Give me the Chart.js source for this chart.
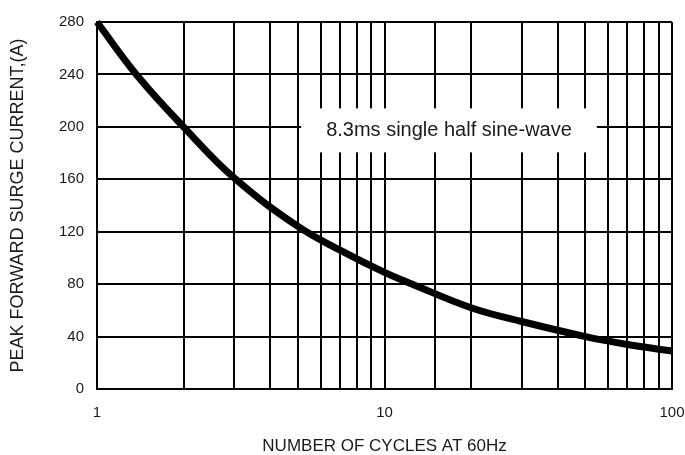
<!DOCTYPE html>
<html>
<head>
<meta charset="utf-8">
<script src="https://cdn.jsdelivr.net/npm/chart.js@4/dist/chart.umd.min.js"></script>
<style>
  html, body { margin: 0; padding: 0; background: #fff; }
  #wrap { width: 685px; height: 455px; }
</style>
</head>
<body>
<div id="wrap"><canvas id="surge" width="685" height="455"></canvas></div>
<script>
const CYCLES = [1, 1.37, 2, 3, 5, 7, 10, 12.5, 20, 30, 50, 70, 100];
const SURGE_AMPS = [280, 240, 200, 161, 124, 106, 89, 80, 62, 51.5, 40, 34, 29];
const Y_TICKS = [0, 40, 80, 120, 160, 200, 240, 280];
const X_LABELS = [1, 10, 100];
const NOTE_TEXT = '8.3ms single half sine-wave';
const NOTE_AT = { x: 16.76, y: 197.3 };

const FONT = 'Liberation Sans, Arial, sans-serif';
const INK = '#1a1a1a';

const notePlugin = {
  id: 'note',
  afterDatasetsDraw(chart) {
    const { ctx, scales } = chart;
    const cx = scales.x.getPixelForValue(NOTE_AT.x);
    const cy = scales.y.getPixelForValue(NOTE_AT.y);
    ctx.save();
    ctx.font = '20px ' + FONT;
    const w = ctx.measureText(NOTE_TEXT).width + 50;
    const h = 44;
    ctx.fillStyle = '#fff';
    ctx.fillRect(cx - w / 2, cy - h / 2, w, h);
    ctx.fillStyle = INK;
    ctx.textAlign = 'center';
    ctx.textBaseline = 'middle';
    ctx.fillText(NOTE_TEXT, cx, cy);
    ctx.restore();
  }
};

window.addEventListener('DOMContentLoaded', () => {
  new Chart(document.getElementById('surge'), {
    type: 'scatter',
    data: {
      datasets: [{
        data: CYCLES.map((c, i) => ({ x: c, y: SURGE_AMPS[i] })),
        showLine: true,
        borderColor: '#000',
        borderWidth: 7,
        pointRadius: 0,
        tension: 0.4,
        clip: false
      }]
    },
    options: {
      responsive: false,
      animation: false,
      devicePixelRatio: 1,
      layout: { padding: { top: 20, right: 13, left: 0, bottom: 0 } },
      scales: {
        x: {
          type: 'logarithmic',
          min: 1,
          max: 100,
          border: { color: '#000', width: 2 },
          grid: { color: '#000', lineWidth: 2, drawTicks: false },
          ticks: {
            padding: 15,
            color: INK,
            font: { family: FONT, size: 15 },
            maxRotation: 0,
            autoSkip: false,
            callback: (v) => X_LABELS.includes(v) ? String(v) : ''
          },
          title: {
            display: true,
            text: 'NUMBER OF CYCLES AT 60Hz',
            color: INK,
            font: { family: FONT, size: 17, lineHeight: 1 },
            padding: { top: 0, bottom: 0 }
          },
          afterFit: (s) => { s.height = 66; s.paddingLeft = 0; s.paddingRight = 0; }
        },
        y: {
          min: 0,
          max: 280,
          border: { color: '#000', width: 2 },
          grid: { color: '#000', lineWidth: 2, drawTicks: false },
          afterBuildTicks: (s) => { s.ticks = Y_TICKS.map(v => ({ value: v })); },
          ticks: {
            padding: 13,
            color: INK,
            font: { family: FONT, size: 15 }
          },
          title: {
            display: true,
            text: 'PEAK FORWARD SURGE CURRENT,(A)',
            color: INK,
            font: { family: FONT, size: 18, lineHeight: 1 },
            padding: { top: 9, bottom: 0 }
          },
          afterFit: (s) => { s.width = 97; }
        }
      },
      plugins: {
        legend: { display: false },
        tooltip: { enabled: false }
      }
    },
    plugins: [notePlugin]
  });
});
</script>
</body>
</html>
